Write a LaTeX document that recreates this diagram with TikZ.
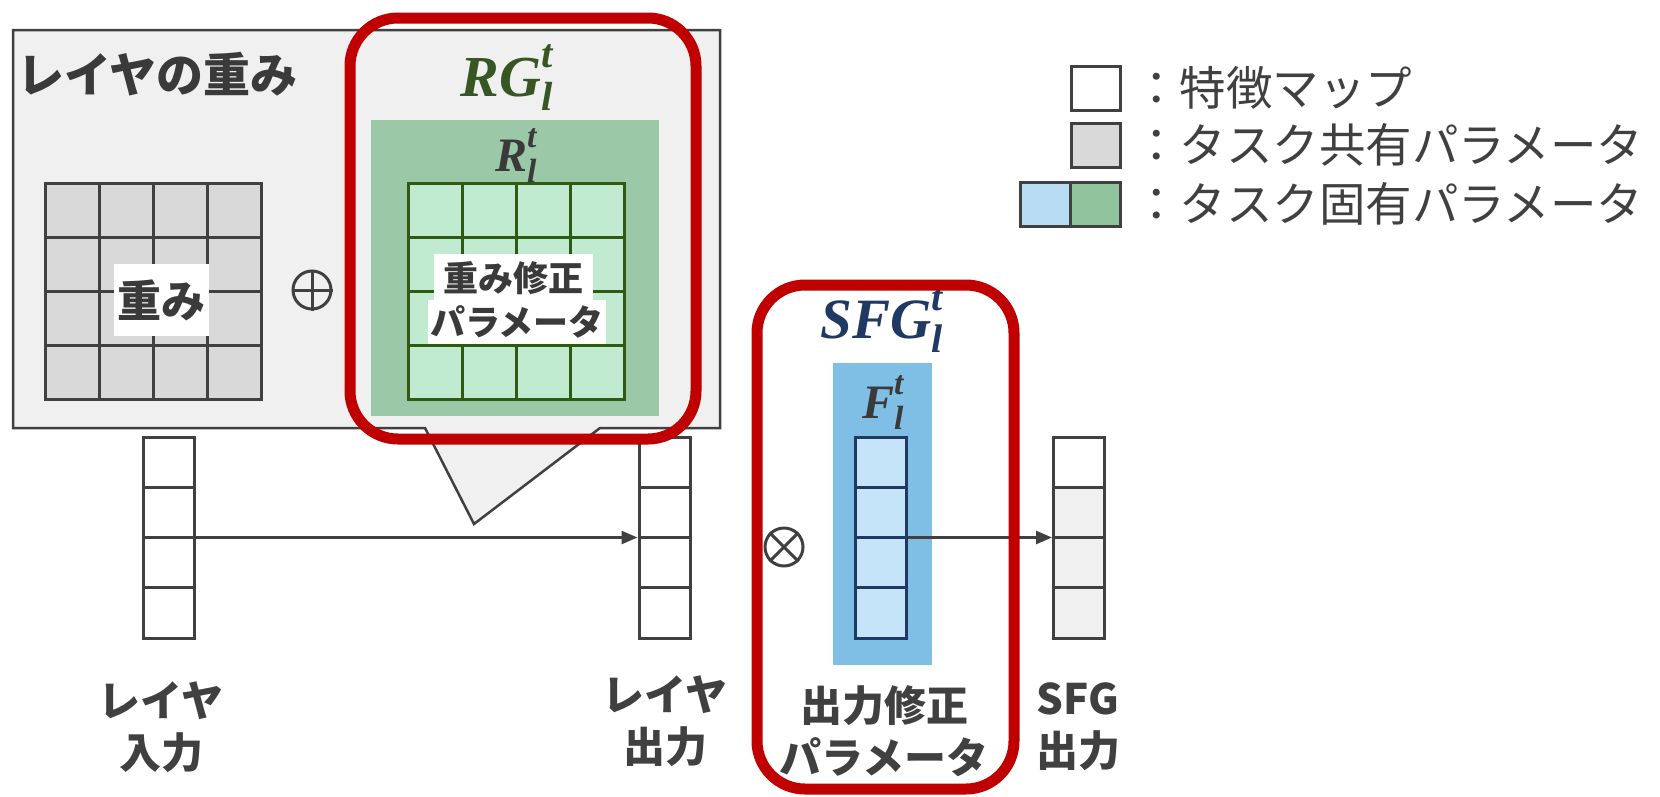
\documentclass[tikz,border=0pt]{standalone}
\usepackage{amsmath}
\usepackage{fontspec}
\usepackage{unicode-math}
\setmainfont{Noto Sans CJK JP}
\setmathfont{Latin Modern Math}
\newfontfamily\bifont{Liberation Serif}
\newcommand\bisym[1]{\text{\bifont\bfseries\itshape #1}}
\usetikzlibrary{arrows.meta}
\definecolor{boxgray}{HTML}{F0F0F0}
\definecolor{cellgray}{HTML}{D9D9D9}
\definecolor{dark}{HTML}{404040}
\definecolor{txt}{HTML}{3A3A3A}
\definecolor{greenbg}{HTML}{9BC8A6}
\definecolor{greencell}{HTML}{C0EBD0}
\definecolor{greenline}{HTML}{2E5A12}
\definecolor{greentxt}{HTML}{375623}
\definecolor{bluebg}{HTML}{7FBFE6}
\definecolor{bluecell}{HTML}{C5E4FA}
\definecolor{navy}{HTML}{1F3864}
\definecolor{redc}{HTML}{C00000}
\definecolor{legblue}{HTML}{B8DCF2}
\definecolor{leggreen}{HTML}{8FC49C}
\begin{document}
\begin{tikzpicture}[x=1pt,y=-1pt,
  lbl/.style={font=\fontsize{42}{52}\selectfont\bfseries, text=dark, align=center, inner sep=0},
  legtxt/.style={font=\fontsize{46.5}{50}\selectfont, text=dark, anchor=west, inner sep=0},
  redbox/.style={draw=redc, line width=11, rounded corners=48},
  colbox/.style={draw=dark, line width=3, minimum width=51, minimum height=201, inner sep=0},
  arr/.style={draw=dark, line width=2.5, -{Triangle[length=16,width=13]}},
  mathlbl/.style={inner sep=0, anchor=base}
]
\useasboundingbox (0,0) rectangle (1660,796);

% layer weight box with callout
\draw[fill=boxgray, draw=dark, line width=2.5] (13,30) -- (720,30) -- (720,428) -- (600,428) -- (474,524) -- (425,428) -- (13,428) -- cycle;
\coordinate (tip) at (474,524);
\node[font=\fontsize{47}{50}\selectfont\bfseries, text=txt, anchor=west, inner sep=0] (title) at (17,74) {レイヤの重み};

% shared weight grid
\node[minimum width=216, minimum height=216, fill=cellgray, inner sep=0] (wgrid) at (153,291) {};
\foreach \k in {1,2,3} {
  \draw[dark, line width=3] ({45+\k*54},183) -- ({45+\k*54},399);
  \draw[dark, line width=3] (45,{183+\k*54}) -- (261,{183+\k*54});
}
\draw[dark, line width=3] (45,183) rectangle (261,399);
\node[fill=white, font=\fontsize{44}{50}\selectfont\bfseries, text=txt, minimum width=95, minimum height=72, inner sep=2] (wlabel) at (161,300) {重み};

% oplus
\node[circle, draw=dark, line width=3, minimum size=38, inner sep=0] (oplus) at (312,290) {};
\draw[dark, line width=3] (oplus.north) -- (oplus.south) (oplus.west) -- (oplus.east);

% RG
\node[mathlbl, text=greentxt, font=\fontsize{58}{60}\selectfont] (rg) at (507,96) {$\bisym{RG}^{\bisym{t}}_{\bisym{l}}$};
\node[fill=greenbg, minimum width=288, minimum height=296, inner sep=0] (gbg) at (515,268) {};
\node[mathlbl, text=txt, font=\fontsize{48}{50}\selectfont] (rl) at (516,171) {$\bisym{R}^{\bisym{t}}_{\bisym{l}}$};
\fill[greencell] (408,183) rectangle (624,399);
\foreach \k in {1,2,3} {
  \draw[greenline, line width=3] ({408+\k*54},183) -- ({408+\k*54},399);
  \draw[greenline, line width=3] (408,{183+\k*54}) -- (624,{183+\k*54});
}
\draw[greenline, line width=3] (408,183) rectangle (624,399);
\node[fill=white, font=\fontsize{35}{40}\selectfont\bfseries, text=txt, minimum width=159, minimum height=48, inner sep=2] (rlab1) at (513,278) {重み修正};
\node[fill=white, font=\fontsize{35}{40}\selectfont\bfseries, text=txt, minimum width=178, minimum height=44, inner sep=2] (rlab2) at (517,322) {パラメータ};

% columns
\node[colbox, fill=white] (incol) at (168.5,537.5) {};
\node[colbox, fill=white] (outcol) at (664.5,537.5) {};
\foreach \k in {1,2,3} {
  \draw[dark, line width=3] (143,{437+\k*50.25}) -- (194,{437+\k*50.25});
  \draw[dark, line width=3] (639,{437+\k*50.25}) -- (690,{437+\k*50.25});
}
\draw[arr] (incol.east) -- (outcol.west);

% SFG
\node[mathlbl, text=navy, font=\fontsize{57}{60}\selectfont] (sfg) at (882,338) {$\bisym{SFG}^{\bisym{t}}_{\bisym{l}}$};
\node[fill=bluebg, minimum width=99, minimum height=302, inner sep=0] (bbg) at (882.5,514) {};
\node[mathlbl, text=txt, font=\fontsize{48}{50}\selectfont] (fl) at (883,418) {$\bisym{F}^{\bisym{t}}_{\bisym{l}}$};
\node[colbox, draw=navy, fill=bluecell] (bcol) at (880.5,537.5) {};
\foreach \k in {1,2,3}
  \draw[navy, line width=3] (855,{437+\k*50.25}) -- (906,{437+\k*50.25});
\node[circle, draw=dark, line width=3, minimum size=38, inner sep=0] (otimes) at (784,547) {};
\draw[dark, line width=3] (otimes.north west) -- (otimes.south east) (otimes.north east) -- (otimes.south west);

\node[colbox, fill=boxgray] (sfgcol) at (1079,537.5) {};
\fill[white] (1054.5,438.5) rectangle (1103.5,487.25);
\draw[dark, line width=3] (1053.5,437) rectangle (1104.5,638);
\foreach \k in {1,2,3}
  \draw[dark, line width=3] (1053.5,{437+\k*50.25}) -- (1104.5,{437+\k*50.25});
\draw[arr] (bcol.east) -- (sfgcol.west);

% labels
\node[lbl] (lin) at (161,727) {レイヤ\\入力};
\node[lbl] (lout) at (665,721) {レイヤ\\出力};
\node[lbl] (lfp) at (884,731) {出力修正\\パラメータ};
\node[lbl] (lsfg) at (1078,727) {SFG\\出力};

% red highlight boxes
\draw[redbox] (350,18) rectangle (696,439);
\draw[redbox] (757,285) rectangle (1014,789);

% legend
\node[draw=dark, line width=3, fill=white, minimum width=49, minimum height=44, inner sep=0] (leg1) at (1095.5,88) {};
\node[draw=dark, line width=3, fill=cellgray, minimum width=49, minimum height=44, inner sep=0] (leg2) at (1095.5,145) {};
\node[draw=dark, line width=3, fill=legblue, minimum width=50, minimum height=44, inner sep=0] (leg3a) at (1045,204) {};
\node[draw=dark, line width=3, fill=leggreen, minimum width=50, minimum height=44, inner sep=0] (leg3b) at (1095,204) {};
\node[legtxt] (t1) at (1133,88) {：特徴マップ};
\node[legtxt] (t2) at (1133,145) {：タスク共有パラメータ};
\node[legtxt] (t3) at (1133,204) {：タスク固有パラメータ};
\end{tikzpicture}
\end{document}
